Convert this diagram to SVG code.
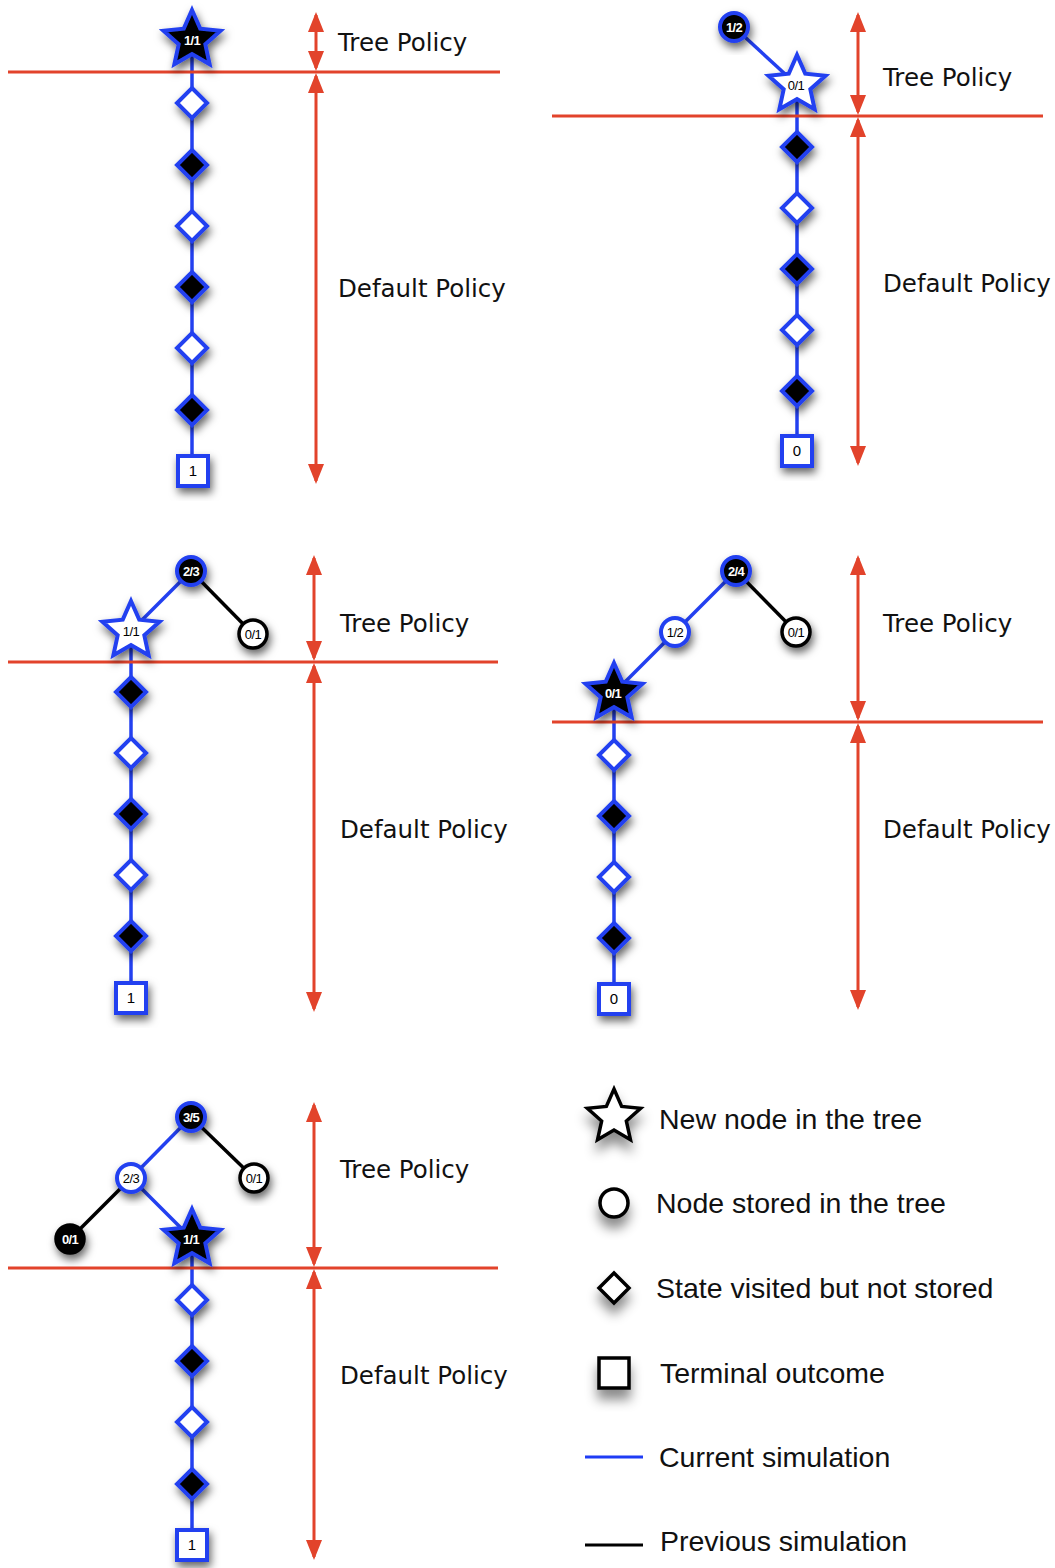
<svg xmlns="http://www.w3.org/2000/svg" xmlns:xlink="http://www.w3.org/1999/xlink" width="1055" height="1568" viewBox="0 0 1055 1568">
<style>
.bg{fill:#fff}
.nb{fill:#000;stroke:#2340f0;stroke-width:4}
.nw{fill:#fff;stroke:#2340f0;stroke-width:4}
.kw{fill:#fff;stroke:#000;stroke-width:3.5}
.kb{fill:#000;stroke:#000;stroke-width:3.5}
.sh{filter:url(#sh)}
.lsh{filter:url(#lsh)}
.lw{font-family:"Liberation Sans",Arial,sans-serif;font-size:13px;font-weight:bold;fill:#fff;text-anchor:middle;letter-spacing:-0.7px}
.lk{font-family:"Liberation Sans",Arial,sans-serif;font-size:13px;fill:#000;text-anchor:middle;letter-spacing:-0.5px}
.lt{font-family:"Liberation Sans",Arial,sans-serif;font-size:15px;fill:#000;text-anchor:middle}
.cb{stroke:#2340f0;stroke-width:3.5;fill:none}
.ck{stroke:#000;stroke-width:3.5;fill:none}
.red{stroke:#e2432b;stroke-width:3;fill:none}
.arr{stroke:#e2432b;stroke-width:3;fill:none;marker-start:url(#ah);marker-end:url(#ah)}
.pol{font-family:"DejaVu Sans",Verdana,sans-serif;font-size:24.5px;fill:#111}
.leg{font-family:"Liberation Sans",Arial,sans-serif;font-size:28.5px;fill:#111}
</style>
<defs>
<filter id="sh" x="-50%" y="-50%" width="200%" height="200%">
<feDropShadow dx="2" dy="5" stdDeviation="4" flood-color="#000" flood-opacity="0.6"/>
</filter>
<filter id="lsh" x="-60%" y="-60%" width="220%" height="240%">
<feDropShadow dx="0" dy="10" stdDeviation="6" flood-color="#000" flood-opacity="0.45"/>
</filter>
<marker id="ah" viewBox="0 0 20 16" refX="17" refY="8" markerWidth="20" markerHeight="16" markerUnits="userSpaceOnUse" orient="auto-start-reverse">
<path d="M0,0 L20,8 L0,16 Z" fill="#e2432b"/>
</marker>
<path id="star" d="M0,-30 L8.23,-11.33 L28.53,-9.27 L13.32,4.33 L17.63,24.27 L0,14 L-17.63,24.27 L-13.32,4.33 L-28.53,-9.27 L-8.23,-11.33 Z"/>
<path id="lstar" d="M0,-28 L7.64,-10.52 L26.63,-8.65 L12.36,4.02 L16.46,22.65 L0,13 L-16.46,22.65 L-12.36,4.02 L-26.63,-8.65 L-7.64,-10.52 Z"/>
<path id="dia" d="M0,-15 L15,0 L0,15 L-15,0 Z"/>
<rect id="sq" x="-15" y="-15" width="30" height="30"/>
</defs>
<rect class="bg" x="0" y="0" width="1055" height="1568"/>

<g id="connectors">
<line class="cb" x1="192" y1="40" x2="192" y2="471"/>
<line class="cb" x1="734" y1="27" x2="797" y2="85"/>
<line class="cb" x1="797" y1="85" x2="797" y2="451"/>
<line class="cb" x1="191" y1="571" x2="131" y2="631"/>
<line class="ck" x1="191" y1="571" x2="253" y2="634"/>
<line class="cb" x1="131" y1="631" x2="131" y2="998"/>
<line class="cb" x1="736" y1="571" x2="675" y2="632"/>
<line class="cb" x1="675" y1="632" x2="614" y2="693"/>
<line class="ck" x1="736" y1="571" x2="796" y2="632"/>
<line class="cb" x1="614" y1="693" x2="614" y2="999"/>
<line class="cb" x1="191" y1="1117" x2="131" y2="1178"/>
<line class="ck" x1="191" y1="1117" x2="254" y2="1178"/>
<line class="ck" x1="131" y1="1178" x2="70" y2="1239"/>
<line class="cb" x1="131" y1="1178" x2="192" y2="1239"/>
<line class="cb" x1="192" y1="1239" x2="192" y2="1545"/>
</g>

<g id="guides">
<line class="red" x1="8" y1="72" x2="500" y2="72"/>
<line class="arr" x1="316" y1="15" x2="316" y2="68"/>
<line class="arr" x1="316" y1="76" x2="316" y2="481"/>
<line class="red" x1="552" y1="116" x2="1043" y2="116"/>
<line class="arr" x1="858" y1="15" x2="858" y2="112"/>
<line class="arr" x1="858" y1="120" x2="858" y2="463"/>
<line class="red" x1="8" y1="662" x2="498" y2="662"/>
<line class="arr" x1="314" y1="558" x2="314" y2="658"/>
<line class="arr" x1="314" y1="666" x2="314" y2="1009"/>
<line class="red" x1="552" y1="722" x2="1043" y2="722"/>
<line class="arr" x1="858" y1="558" x2="858" y2="718"/>
<line class="arr" x1="858" y1="726" x2="858" y2="1007"/>
<line class="red" x1="8" y1="1268" x2="498" y2="1268"/>
<line class="arr" x1="314" y1="1105" x2="314" y2="1264"/>
<line class="arr" x1="314" y1="1272" x2="314" y2="1557"/>
</g>

<g id="labels">
<text class="pol" x="338" y="51">Tree Policy</text>
<text class="pol" x="338" y="297">Default Policy</text>
<text class="pol" x="883" y="86">Tree Policy</text>
<text class="pol" x="883" y="292">Default Policy</text>
<text class="pol" x="340" y="632">Tree Policy</text>
<text class="pol" x="340" y="838">Default Policy</text>
<text class="pol" x="883" y="632">Tree Policy</text>
<text class="pol" x="883" y="838">Default Policy</text>
<text class="pol" x="340" y="1178">Tree Policy</text>
<text class="pol" x="340" y="1384">Default Policy</text>
</g>

<!-- Panel 1 -->
<g id="p1-star"><use href="#star" class="nb sh" x="192" y="40"/><text class="lw" x="192" y="45">1/1</text></g>
<g id="p1-d1"><use href="#dia" class="nw sh" x="192" y="103"/></g>
<g id="p1-d2"><use href="#dia" class="nb sh" x="192" y="165"/></g>
<g id="p1-d3"><use href="#dia" class="nw sh" x="192" y="226"/></g>
<g id="p1-d4"><use href="#dia" class="nb sh" x="192" y="287"/></g>
<g id="p1-d5"><use href="#dia" class="nw sh" x="192" y="348"/></g>
<g id="p1-d6"><use href="#dia" class="nb sh" x="192" y="410"/></g>
<g id="p1-sq"><use href="#sq" class="nw sh" x="193" y="471"/><text class="lt" x="193" y="476">1</text></g>

<!-- Panel 2 -->
<g id="p2-root"><circle class="nb sh" cx="734" cy="27" r="14"/><text class="lw" x="734" y="31.5">1/2</text></g>
<g id="p2-star"><use href="#star" class="nw sh" x="797" y="85"/><text class="lk" x="796" y="90">0/1</text></g>
<g id="p2-d1"><use href="#dia" class="nb sh" x="797" y="147"/></g>
<g id="p2-d2"><use href="#dia" class="nw sh" x="797" y="208"/></g>
<g id="p2-d3"><use href="#dia" class="nb sh" x="797" y="269"/></g>
<g id="p2-d4"><use href="#dia" class="nw sh" x="797" y="330"/></g>
<g id="p2-d5"><use href="#dia" class="nb sh" x="797" y="391"/></g>
<g id="p2-sq"><use href="#sq" class="nw sh" x="797" y="451"/><text class="lt" x="797" y="456">0</text></g>

<!-- Panel 3 -->
<g id="p3-root"><circle class="nb sh" cx="191" cy="571" r="14"/><text class="lw" x="191" y="575.5">2/3</text></g>
<g id="p3-right"><circle class="kw sh" cx="253" cy="634" r="14"/><text class="lk" x="253" y="638.5">0/1</text></g>
<g id="p3-star"><use href="#star" class="nw sh" x="131" y="631"/><text class="lk" x="131" y="636">1/1</text></g>
<g id="p3-d1"><use href="#dia" class="nb sh" x="131" y="692"/></g>
<g id="p3-d2"><use href="#dia" class="nw sh" x="131" y="753"/></g>
<g id="p3-d3"><use href="#dia" class="nb sh" x="131" y="814"/></g>
<g id="p3-d4"><use href="#dia" class="nw sh" x="131" y="875"/></g>
<g id="p3-d5"><use href="#dia" class="nb sh" x="131" y="936"/></g>
<g id="p3-sq"><use href="#sq" class="nw sh" x="131" y="998"/><text class="lt" x="131" y="1003">1</text></g>

<!-- Panel 4 -->
<g id="p4-root"><circle class="nb sh" cx="736" cy="571" r="14"/><text class="lw" x="736" y="575.5">2/4</text></g>
<g id="p4-mid"><circle class="nw sh" cx="675" cy="632" r="14"/><text class="lk" x="675" y="636.5">1/2</text></g>
<g id="p4-right"><circle class="kw sh" cx="796" cy="632" r="14"/><text class="lk" x="796" y="636.5">0/1</text></g>
<g id="p4-star"><use href="#star" class="nb sh" x="614" y="693"/><text class="lw" x="613" y="698">0/1</text></g>
<g id="p4-d1"><use href="#dia" class="nw sh" x="614" y="755"/></g>
<g id="p4-d2"><use href="#dia" class="nb sh" x="614" y="816"/></g>
<g id="p4-d3"><use href="#dia" class="nw sh" x="614" y="877"/></g>
<g id="p4-d4"><use href="#dia" class="nb sh" x="614" y="938"/></g>
<g id="p4-sq"><use href="#sq" class="nw sh" x="614" y="999"/><text class="lt" x="614" y="1004">0</text></g>

<!-- Panel 5 -->
<g id="p5-root"><circle class="nb sh" cx="191" cy="1117" r="14"/><text class="lw" x="191" y="1121.5">3/5</text></g>
<g id="p5-mid"><circle class="nw sh" cx="131" cy="1178" r="14"/><text class="lk" x="131" y="1182.5">2/3</text></g>
<g id="p5-right"><circle class="kw sh" cx="254" cy="1178" r="14"/><text class="lk" x="254" y="1182.5">0/1</text></g>
<g id="p5-left"><circle class="kb sh" cx="70" cy="1239" r="14"/><text class="lw" x="70" y="1243.5">0/1</text></g>
<g id="p5-star"><use href="#star" class="nb sh" x="192" y="1239"/><text class="lw" x="191" y="1244">1/1</text></g>
<g id="p5-d1"><use href="#dia" class="nw sh" x="192" y="1300"/></g>
<g id="p5-d2"><use href="#dia" class="nb sh" x="192" y="1361"/></g>
<g id="p5-d3"><use href="#dia" class="nw sh" x="192" y="1422"/></g>
<g id="p5-d4"><use href="#dia" class="nb sh" x="192" y="1484"/></g>
<g id="p5-sq"><use href="#sq" class="nw sh" x="192" y="1545"/><text class="lt" x="192" y="1550">1</text></g>

<!-- Legend -->
<g id="legend-star"><use href="#lstar" class="kw lsh" x="614" y="1117"/><text class="leg" x="659" y="1129">New node in the tree</text></g>
<g id="legend-circle"><circle class="kw lsh" cx="614" cy="1203" r="14"/><text class="leg" x="656" y="1213">Node stored in the tree</text></g>
<g id="legend-diamond"><use href="#dia" class="kw lsh" x="614" y="1288"/><text class="leg" x="656" y="1298">State visited but not stored</text></g>
<g id="legend-square"><use href="#sq" class="kw lsh" x="614" y="1373"/><text class="leg" x="660" y="1383">Terminal outcome</text></g>
<g id="legend-current"><line x1="585" y1="1457" x2="643" y2="1457" stroke="#1f3cf5" stroke-width="3"/><text class="leg" x="659" y="1467">Current simulation</text></g>
<g id="legend-previous"><line x1="585" y1="1545" x2="643" y2="1545" stroke="#000" stroke-width="3"/><text class="leg" x="660" y="1551">Previous simulation</text></g>
</svg>
